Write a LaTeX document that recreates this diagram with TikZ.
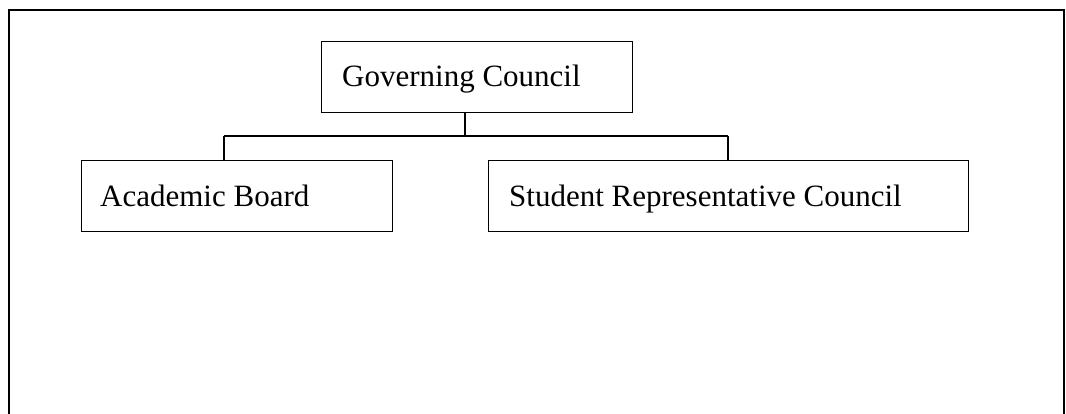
\documentclass[tikz,border=0pt]{standalone}
\usepackage{fontspec}
\setmainfont{Liberation Serif}
\begin{document}
\begin{tikzpicture}[x=1pt,y=-1pt,
  frame/.style={line width=2pt},
  box/.style={draw, line width=1.3pt, anchor=north west, inner sep=0pt},
  lbl/.style={anchor=base west, inner sep=0pt, font=\fontsize{31}{37}\selectfont},
  link/.style={line width=1.3pt}]
  \useasboundingbox (0,0) rectangle (1066,414);
  % open outer frame
  \draw[frame] (9,416) -- (9,10) -- (1064,10) -- (1064,416);
  % boxes
  \node[box, minimum width=311pt, minimum height=71pt] (gov) at (321,41) {};
  \node[box, minimum width=311pt, minimum height=71pt] (acad) at (81,160) {};
  \node[box, minimum width=480pt, minimum height=71pt] (srep) at (488,160) {};
  % labels
  \node[lbl] (govtext) at (342,87) {Governing Council};
  \node[lbl] (acadtext) at (100,207) {Academic Board};
  \node[lbl] (sreptext) at (509,207) {Student Representative Council};
  % connectors
  \coordinate (jm) at (465,136);
  \coordinate (jl) at (224,136);
  \coordinate (jr) at (728,136);
  \draw[link] (gov.south -| jm) -- (jm);
  \draw[link] (jl) -- (jr);
  \draw[link] (jl) -- (jl |- acad.north);
  \draw[link] (jr) -- (jr |- srep.north);
\end{tikzpicture}
\end{document}
